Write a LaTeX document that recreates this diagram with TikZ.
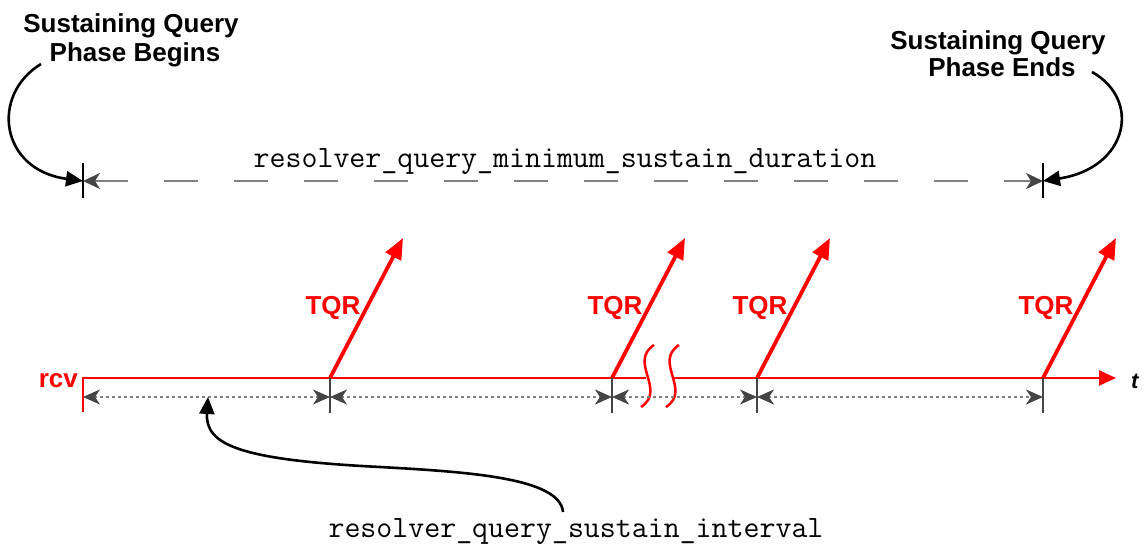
\documentclass[tikz,border=0pt]{standalone}
\usepackage{fontspec}
\setmainfont{Liberation Sans}
\usetikzlibrary{arrows.meta,calc}
\definecolor{dimgrey}{HTML}{808080}
\definecolor{tipgrey}{HTML}{454545}
\begin{document}
\begin{tikzpicture}[x=1pt,y=-1pt,
  lbl/.style={font=\fontsize{26}{29}\selectfont\bfseries, inner sep=0pt, anchor=base},
  redlbl/.style={lbl, text=red},
  code/.style={font=\fontsize{31}{33}\selectfont\ttfamily, inner sep=0pt, anchor=base},
  callout/.style={line width=2.6pt, -{Triangle[length=17pt,width=15pt]}},
  tqr/.style={red, line width=3.8pt, -{Triangle[length=21pt,width=17pt]}},
  redline/.style={red, line width=2.5pt},
  blacktick/.style={line width=1.3pt, black},
  greytick/.style={line width=1.6pt, tipgrey},
  dimdash/.style={dimgrey, line width=2pt, dash pattern=on 34pt off 36pt, {Stealth[length=17pt,width=16pt,inset=5pt,color=tipgrey]}-{Stealth[length=17pt,width=16pt,inset=5pt,color=tipgrey]}},
  dimdot/.style={dimgrey, line width=1.5pt, dash pattern=on 3pt off 3pt, {Stealth[length=17pt,width=15pt,inset=5pt,color=tipgrey]}-{Stealth[length=17pt,width=15pt,inset=5pt,color=tipgrey]}},
]
\useasboundingbox (0,0) rectangle (1143,545);

% top labels
\node[lbl] (sb1) at (131,33) {Sustaining Query};
\node[lbl] (sb2) at (135,62) {Phase Begins};
\node[lbl] (se1) at (998,50) {Sustaining Query};
\node[lbl] (se2) at (1002,77) {Phase Ends};

% top dimension
\coordinate (ts) at (83,181);
\coordinate (te) at (1043,181);
\draw[blacktick] ($(ts)+(0,-18)$) -- ($(ts)+(0,17)$);
\draw[blacktick] ($(te)+(0,-18)$) -- ($(te)+(0,17)$);
\draw[dimdash] (ts) -- (te);
\node[code] (dur) at (565,168) {resolver\_query\_minimum\_sustain\_duration};

% callouts to top dimension
\coordinate (bs) at (41,64);
\coordinate (es) at (1092,72);
\draw[callout] (bs) .. controls (-10,95) and (0,170) .. (ts);
\draw[callout] (es) .. controls (1142,100) and (1128,168) .. (te);

% timeline
\coordinate (rcv) at (83,378);
\coordinate (q1) at (330,378);
\coordinate (q2) at (612,378);
\coordinate (q3) at (757,378);
\coordinate (q4) at (1043,378);
\coordinate (brk1) at (646,378);
\coordinate (brk2) at (672,378);
\coordinate (tend) at (1116,378);
\draw[redline, line cap=butt] ($(rcv)+(0,34)$) -- (rcv) -- (brk1);
\draw[redline, -{Triangle[length=17pt,width=15pt]}] (brk2) -- (tend);
\draw[redline] (654,345) .. controls (628,362) and (667,390) .. (641,407);
\draw[redline] (679,345) .. controls (653,362) and (692,390) .. (666,407);
\node[redlbl, anchor=base east] (rcvl) at (78,387) {rcv};
\node[font=\fontsize{22}{24}\selectfont\bfseries\itshape, inner sep=0pt, anchor=base west] (tl) at (1131,388) {t};

% TQR arrows
\foreach \q in {1,2,3,4}{
  \coordinate (a\q) at ($(q\q)+(73,-140)$);
  \draw[tqr] (q\q) -- (a\q);
  \node[redlbl] (l\q) at ($(q\q)+(3,-63)$) {TQR};
  \draw[greytick] (q\q) -- ($(q\q)+(0,35)$);
}

% bottom dimensions
\coordinate (d0) at (83,397);
\coordinate (d1) at (330,397);
\coordinate (d2) at (612,397);
\coordinate (d3) at (757,397);
\coordinate (d4) at (1043,397);
\draw[dimdot] (d0) -- (d1);
\draw[dimdot] (d1) -- (d2);
\draw[dimdot] (d2) -- (d3);
\draw[dimdot] (d3) -- (d4);

% interval callout
\node[code] (intv) at (576,537) {resolver\_query\_sustain\_interval};
\coordinate (ic) at (563,512);
\coordinate (dp) at (208,397);
\draw[callout] (ic) .. controls (560,478) and (470,472) .. (380,467) .. controls (240,460) and (205,445) .. (dp);
\end{tikzpicture}
\end{document}
